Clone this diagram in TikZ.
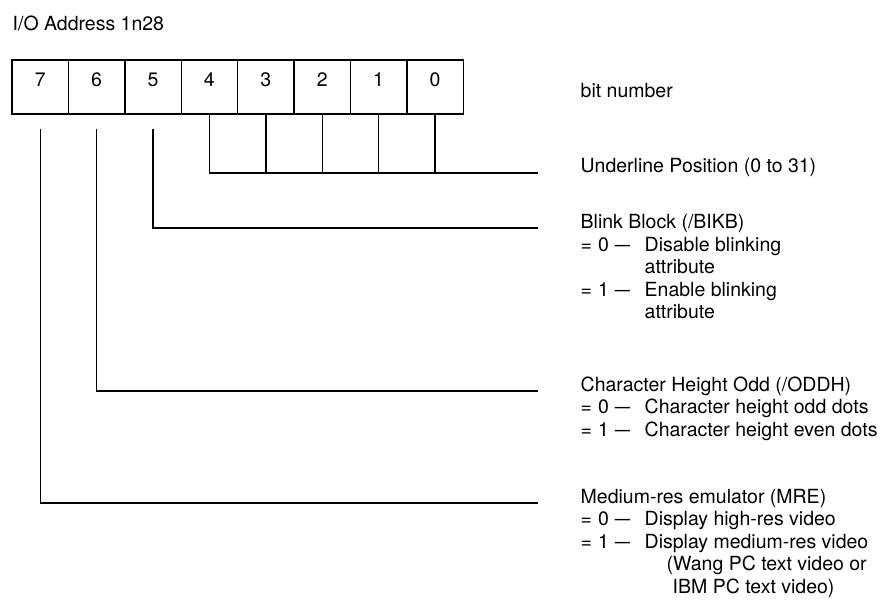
\documentclass[tikz,border=0pt]{standalone}
\usepackage{fontspec}
\setmainfont{TeX Gyre Heros}
\newcommand\eqpre[1]{\makebox[64pt][l]{=\hspace{6pt}#1\hspace{6pt}\scalebox{0.78}[1]{—}}}
\begin{document}
\begin{tikzpicture}[x=1pt,y=-1pt,line width=1.4pt,
  txt/.style={font=\fontsize{19.5}{22.5}\selectfont},
  bitbox/.style={draw,txt,minimum width=56.4pt,minimum height=54pt,inner sep=0pt,text height=14pt,text depth=14pt},
  lbl/.style={txt,anchor=base west,inner sep=0pt,align=left}]
\useasboundingbox (0,0) rectangle (887,604);
% bit boxes
\foreach \i in {7,...,0}{
  \node[bitbox] (b\i) at ({12+56.4*(7-\i)+28.2},87) {\i};
}
% endpoints of connectors
\coordinate (eu) at (538,173);
\coordinate (e5) at (538,228);
\coordinate (e6) at (538,391);
\coordinate (e7) at (538,503);
% underline position field (bits 4..0)
\draw (b4.south) -- (b4.south |- eu) -- (eu);
\foreach \i in {3,2,1,0}{ \draw (b\i.south) -- (b\i.south |- eu); }
% single bits
\draw ([yshift=-14pt]b5.south) -- (b5.south |- e5) -- (e5);
\draw ([yshift=-14pt]b6.south) -- (b6.south |- e6) -- (e6);
\draw ([yshift=-14pt]b7.south) -- (b7.south |- e7) -- (e7);
% texts (base anchor of a multi-line node = baseline of its last line)
\node[lbl] (title) at (12,31) {I/O Address 1n28};
\node[lbl] (bitnum) at (580,98) {bit number};
\node[lbl] (ul) at (580,173) {Underline Position (0 to 31)};
\node[lbl] (blink) at (580,319) {Blink Block (/BIKB)\\
  \eqpre{0}Disable blinking\\
  \hspace*{64pt}attribute\\
  \eqpre{1}Enable blinking\\
  \hspace*{64pt}attribute};
\node[lbl] (oddh) at (580,436) {Character Height Odd (/ODDH)\\
  \eqpre{0}Character height odd dots\\
  \eqpre{1}Character height even dots};
\node[lbl] (mre) at (580,593) {Medium-res emulator (MRE)\\
  \eqpre{0}Display high-res video\\
  \eqpre{1}Display medium-res video\\
  \hspace*{86pt}(Wang PC text video or\\
  \hspace*{92pt}IBM PC text video)};
\end{tikzpicture}
\end{document}
